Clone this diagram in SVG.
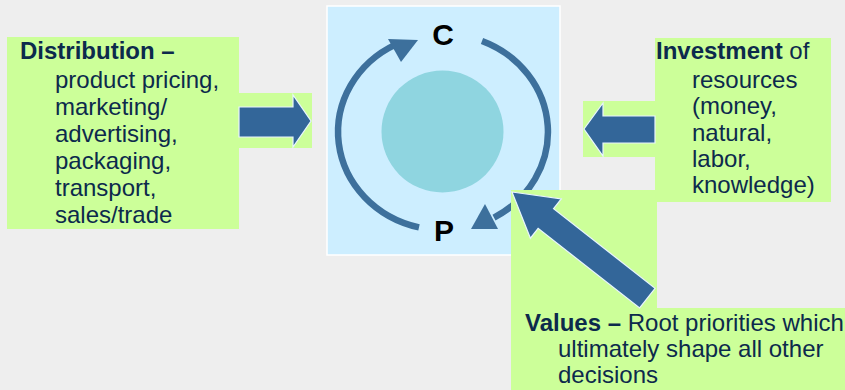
<svg xmlns="http://www.w3.org/2000/svg" width="845" height="390" viewBox="0 0 845 390">
<defs>
<style>
.bg{fill:#eeeeee}
.green{fill:#ccff99}
.t{font-family:"Liberation Sans",Arial,sans-serif;font-size:24px;fill:#0c2a4c}
.b{font-weight:bold}
.blk{fill:#336699;stroke:#e8f4ff;stroke-width:1.2;stroke-linejoin:miter}
.cyc{fill:none;stroke:#3d709c;stroke-width:6.5}
.head{fill:#3d709c}
.lt{font-family:"Liberation Sans",Arial,sans-serif;font-size:30px;font-weight:bold;fill:#000000;text-anchor:middle}
</style>
</defs>
<rect class="bg" x="0" y="0" width="845" height="390"/>

<g id="cycle">
<rect x="327" y="6" width="233" height="249" fill="#cdeeff" stroke="#ffffff" stroke-width="1.5"/>
<circle cx="442.5" cy="131.5" r="61" fill="#8fd5e0"/>
<path class="cyc" d="M 419 227.4 A 105 98 0 0 1 396 44.4"/>
<polygon class="head" points="418,40 388,39 401,62"/>
<path class="cyc" d="M 482 41 A 105 98 0 0 1 494 217.6"/>
<polygon class="head" points="471,229 485,204 498,229"/>
<text class="lt" x="443" y="45">C</text>
<text class="lt" x="444" y="241">P</text>
</g>

<g id="distribution">
<rect class="green" x="7" y="37" width="232" height="192"/>
<rect class="green" x="239" y="93" width="73" height="55"/>
<text class="t"><tspan class="b" x="20" y="59">Distribution –</tspan><tspan x="55" y="88">product pricing,</tspan><tspan x="55" y="115">marketing/</tspan><tspan x="55" y="142">advertising,</tspan><tspan x="55" y="169">packaging,</tspan><tspan x="55" y="196">transport,</tspan><tspan x="55" y="223">sales/trade</tspan></text>
</g>

<g id="investment">
<rect class="green" x="655" y="38" width="176" height="164"/>
<rect class="green" x="583" y="101" width="72" height="56"/>
<text class="t"><tspan class="b" x="656" y="59">Investment</tspan><tspan> of</tspan><tspan x="692" y="88">resources</tspan><tspan x="692" y="114">(money,</tspan><tspan x="692" y="141">natural,</tspan><tspan x="692" y="167">labor,</tspan><tspan x="692" y="193">knowledge)</tspan></text>
</g>

<g id="values">
<polygon class="green" points="511,190 657,190 657,308 845,308 845,390 511,390"/>
<text class="t"><tspan class="b" x="525" y="331">Values –</tspan><tspan> Root priorities which</tspan><tspan x="558" y="357">ultimately shape all other</tspan><tspan x="558" y="383">decisions</tspan></text>
</g>

<g id="connectors">
<polygon class="blk" points="239,107 293,107 293,95 311,121 293,147 293,137 239,137"/>
<polygon class="blk" points="655,116 603,116 603,103 584,129 603,156 603,143 655,143"/>
<polygon class="blk" transform="translate(512,192) rotate(38.1)" points="0,0 43,-25 43,-12.5 172,-12.5 172,12.5 43,12.5 43,25"/>
</g>
</svg>
